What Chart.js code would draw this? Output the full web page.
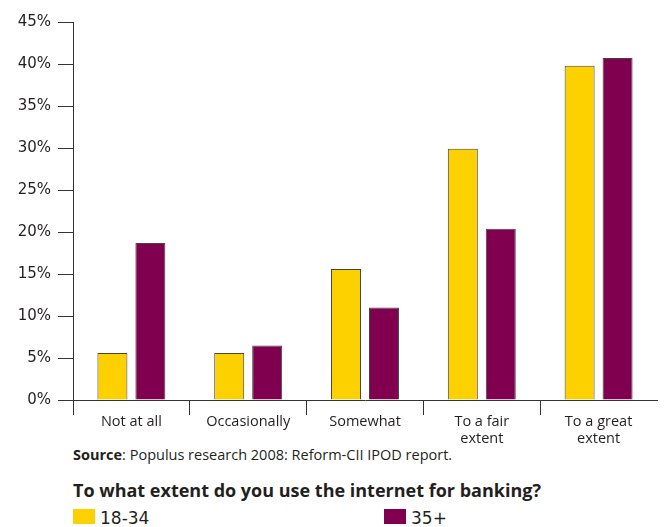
<!DOCTYPE html>
<html>
<head>
<meta charset="utf-8">
<script src="https://cdn.jsdelivr.net/npm/chart.js@4/dist/chart.umd.min.js"></script>
<style>
  body { margin: 0; background: #fff; font-family: "Open Sans", sans-serif; color: #231f20; }
  #wrap { position: relative; width: 664px; height: 527px; }
  #chart-box { position: absolute; left: 0; top: 0; width: 664px; height: 445px; }
  .source { position: absolute; left: 73px; top: 446px; font-size: 14.5px; line-height: 18px; white-space: nowrap; }
  .title { position: absolute; left: 73px; top: 479px; font-size: 18px; font-weight: bold; line-height: 22px; white-space: nowrap; }
  .sw { position: absolute; top: 509px; width: 22px; height: 15px; }
  .key { position: absolute; top: 507px; font-family: "DejaVu Sans", sans-serif; font-size: 17px; line-height: 22px; }
</style>
</head>
<body>
<div id="wrap">
  <div id="chart-box"><canvas id="chart"></canvas></div>
  <div class="source"><b>Source</b>: Populus research 2008: Reform-CII IPOD report.</div>
  <div class="title">To what extent do you use the internet for banking?</div>
  <div id="legend"></div>
</div>
<script>
// survey answers, split per age group (percent)
const categories = [['Not at all'], ['Occasionally'], ['Somewhat'], ['To a fair', 'extent'], ['To a great', 'extent']];
const groups = ['18-34', '35+'];
const young = [5.6, 5.6, 15.6, 29.9, 39.8];
const older = [18.7, 6.5, 11.0, 20.4, 40.7];
const colors = ['#fdd000', '#80004f'];

const axisColor = '#333';

function makeChart() {
    const ctx = document.getElementById('chart');
    new Chart(ctx, {
        type: 'bar',
        data: {
            labels: categories,
            datasets: [young, older].map((vals, i) => ({
                label: groups[i],
                data: vals,
                backgroundColor: colors[i],
                borderColor: '#444',
                borderWidth: 1,
                categoryPercentage: 0.65,
                barPercentage: 0.79
            }))
        },
        options: {
            responsive: true,
            maintainAspectRatio: false,
            animation: false,
            layout: { padding: { top: 22, right: 7, left: 0, bottom: 0 } },
            plugins: {
                legend: { display: false },
                tooltip: { enabled: false }
            },
            scales: {
                x: {
                    grid: {
                        offset: true,
                        drawOnChartArea: false,
                        tickLength: 15,
                        // no separator after the last category
                        color: c => c.type === 'tick' ? axisColor : 'rgba(0,0,0,0)'
                    },
                    border: { color: axisColor, width: 1 },
                    ticks: {
                        color: '#231f20',
                        font: { family: 'Open Sans', size: 14.5 },
                        padding: -2,
                        maxRotation: 0
                    },
                    afterFit: s => { s.height = 45; }
                },
                y: {
                    min: 0,
                    max: 45,
                    grid: { drawOnChartArea: false, tickLength: 15, color: axisColor },
                    border: { color: axisColor, width: 1 },
                    ticks: {
                        stepSize: 5,
                        color: '#231f20',
                        font: { family: 'DejaVu Sans', size: 15 },
                        padding: 7,
                        callback: v => v + '%'
                    },
                    afterFit: s => { s.width = 73; }
                }
            }
        }
    });
}

function makeLegend() {
    const box = document.getElementById('legend');
    const lefts = [73, 384];
    groups.forEach((g, i) => {
        const sw = document.createElement('div');
        sw.className = 'sw';
        sw.style.left = lefts[i] + 'px';
        sw.style.background = colors[i];
        const txt = document.createElement('div');
        txt.className = 'key';
        txt.style.left = (lefts[i] + 27) + 'px';
        txt.textContent = g;
        box.appendChild(sw);
        box.appendChild(txt);
    });
}

makeChart();
makeLegend();
</script>
</body>
</html>
